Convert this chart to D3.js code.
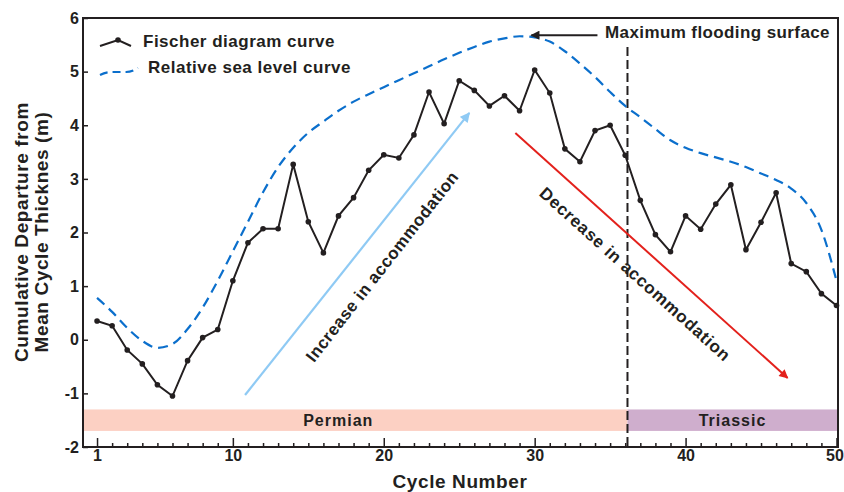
<!DOCTYPE html>
<html>
<head>
<meta charset="utf-8">
<script src="https://cdn.jsdelivr.net/npm/d3@7"></script>
<style>
  body { margin: 0; background: #fff; }
  text { font-family: "Liberation Sans", Arial, sans-serif; font-weight: bold; fill: #231f20; }
</style>
</head>
<body>
<div id="chart"></div>
<script>
// cycle numbers and the Fischer curve (cumulative departure, m)
var cycles = [1,2,3,4,5,6,7,8,9,10,11,12,13,14,15,16,17,18,19,20,21,22,23,24,25,
              26,27,28,29,30,31,32,33,34,35,36,37,38,39,40,41,42,43,44,45,46,47,48,49,50];
var fischer = [0.35,0.26,-0.19,-0.45,-0.84,-1.05,-0.39,0.04,0.19,1.10,
               1.81,2.07,2.07,3.27,2.20,1.62,2.31,2.65,3.16,3.45,
               3.39,3.82,4.62,4.03,4.83,4.65,4.36,4.55,4.27,5.03,
               4.60,3.56,3.32,3.90,4.00,3.44,2.60,1.96,1.64,2.31,
               2.06,2.53,2.89,1.68,2.19,2.74,1.42,1.27,0.86,0.64];

// relative sea level curve
var seaCycles = [1,2,3,4,5,6,7,8,9,10,11,12,13,14,15,16,17,18,19,20,21,22,23,24,25,
                 26,27,28,29,30,31,32,33,34,35,36,37,38,39,40,41,42,43,44,45,46,47,48,49,50];
var seaLevel = [0.78,0.52,0.22,-0.02,-0.15,-0.08,0.20,0.60,1.10,1.65,
                2.20,2.75,3.22,3.58,3.86,4.07,4.27,4.44,4.58,4.71,
                4.84,4.97,5.10,5.23,5.35,5.46,5.56,5.62,5.66,5.64,
                5.56,5.38,5.15,4.90,4.62,4.36,4.15,3.93,3.72,3.58,
                3.48,3.40,3.32,3.22,3.10,2.98,2.82,2.55,2.05,1.10];

var xTicks = [1,10,20,30,40,50];
var yTicks = [-2,-1,0,1,2,3,4,5,6];

var periodNames = ["Permian", "Triassic"];
var periodFrom = [0.07, 36.15];
var periodTo = [36.15, 50.07];
var periodColors = ["#fcd0c3", "#cfaecd"];
var periodTop = -1.3, periodBottom = -1.7;

var mfsCycle = 36.15;

var width = 844, height = 492;

var svg = d3.select("#chart")
    .append("svg")
    .attr("width", width)
    .attr("height", height);

var x = d3.scaleLinear().domain([0.07, 50.1]).range([83, 838]);
var y = d3.scaleLinear().domain([-2, 6]).range([447, 18]);

// period bars
periodNames.forEach(function(name, i) {
    svg.append("rect")
        .attr("x", x(periodFrom[i]))
        .attr("y", y(periodTop))
        .attr("width", x(periodTo[i]) - x(periodFrom[i]))
        .attr("height", y(periodBottom) - y(periodTop))
        .attr("fill", periodColors[i]);
    svg.append("text")
        .attr("x", (x(periodFrom[i]) + x(periodTo[i])) / 2 + (i == 0 ? -17 : 0))
        .attr("y", y((periodTop + periodBottom) / 2) + 6)
        .attr("text-anchor", "middle")
        .style("font-size", "16px")
        .style("letter-spacing", "1px")
        .text(name);
});

// axes
var yAxis = d3.axisLeft(y).tickValues(yTicks).tickSize(-5).tickPadding(4)
    .tickFormat(function(d) { return String(d); });
var gy = svg.append("g").attr("transform", "translate(83,0)").call(yAxis);
gy.select(".domain").remove();

var xAxis = d3.axisBottom(x).tickValues(cycles).tickSize(-4).tickPadding(3)
    .tickFormat(function(d) { return xTicks.indexOf(d) >= 0 ? d : ""; });
var gx = svg.append("g").attr("transform", "translate(0,447)").call(xAxis);
gx.select(".domain").remove();
gx.selectAll(".tick line")
    .filter(function(d) { return xTicks.indexOf(d) >= 0; })
    .attr("y2", -9);
// keep the last label inside the page
gx.selectAll(".tick text")
    .filter(function(d) { return d == 50; })
    .attr("dx", -2);

svg.selectAll(".tick line").attr("stroke", "#231f20").attr("stroke-width", 1.5);
svg.selectAll(".tick text").style("font-size", "16px").attr("fill", "#231f20");

svg.append("rect")
    .attr("x", 83).attr("y", 18)
    .attr("width", 755).attr("height", 429)
    .attr("fill", "none")
    .attr("stroke", "#231f20")
    .attr("stroke-width", 2);

// MFS vertical dashed line
svg.append("line")
    .attr("x1", x(mfsCycle)).attr("x2", x(mfsCycle))
    .attr("y1", y(5.46)).attr("y2", y(-2))
    .attr("stroke", "#231f20")
    .attr("stroke-width", 2)
    .attr("stroke-dasharray", "9,4");

// arrow heads
var defs = svg.append("defs");
function marker(id, color) {
    defs.append("marker")
        .attr("id", id)
        .attr("viewBox", "0 0 10 10")
        .attr("refX", 9).attr("refY", 5)
        .attr("markerWidth", 5).attr("markerHeight", 4.5)
        .attr("markerUnits", "strokeWidth")
        .attr("orient", "auto")
        .append("path")
        .attr("d", "M0,0L10,5L0,10z")
        .attr("fill", color);
}
marker("blueHead", "#8fcaf4");
marker("redHead", "#e3211c");
marker("blackHead", "#231f20");

// sea level curve
var seaLine = d3.line()
    .x(function(d, i) { return x(seaCycles[i]); })
    .y(function(d) { return y(d); })
    .curve(d3.curveMonotoneX);

svg.append("path")
    .datum(seaLevel)
    .attr("d", seaLine)
    .attr("fill", "none")
    .attr("stroke", "#0b6fcc")
    .attr("stroke-width", 2.2)
    .attr("stroke-dasharray", "10,6");

// Fischer curve
var fLine = d3.line()
    .x(function(d, i) { return x(cycles[i]); })
    .y(function(d) { return y(d); });

svg.append("path")
    .datum(fischer)
    .attr("d", fLine)
    .attr("fill", "none")
    .attr("stroke", "#231f20")
    .attr("stroke-width", 2);

svg.selectAll(".pt")
    .data(fischer)
    .enter().append("circle")
    .attr("class", "pt")
    .attr("cx", function(d, i) { return x(cycles[i]); })
    .attr("cy", function(d) { return y(d); })
    .attr("r", 2.8)
    .attr("fill", "#231f20");

// accommodation arrows
svg.append("line")
    .attr("x1", x(10.81)).attr("y1", y(-1.03))
    .attr("x2", x(25.67)).attr("y2", y(4.23))
    .attr("stroke", "#8fcaf4").attr("stroke-width", 2.2)
    .attr("marker-end", "url(#blueHead)");

svg.append("line")
    .attr("x1", x(28.72)).attr("y1", y(3.855))
    .attr("x2", x(46.76)).attr("y2", y(-0.713))
    .attr("stroke", "#e3211c").attr("stroke-width", 2)
    .attr("marker-end", "url(#redHead)");

svg.append("text")
    .attr("transform", "translate(" + x(20.2) + "," + y(1.30) + ") rotate(-52)")
    .attr("text-anchor", "middle")
    .style("font-size", "17px")
    .style("letter-spacing", "0.5px")
    .text("Increase in accommodation");

svg.append("text")
    .attr("transform", "translate(" + x(36.4) + "," + y(1.14) + ") rotate(42)")
    .attr("text-anchor", "middle")
    .style("font-size", "17px")
    .style("letter-spacing", "0.8px")
    .text("Decrease in accommodation");

// maximum flooding surface label
svg.append("line")
    .attr("x1", x(34.16)).attr("y1", y(5.68))
    .attr("x2", x(29.78)).attr("y2", y(5.68))
    .attr("stroke", "#231f20").attr("stroke-width", 2)
    .attr("marker-end", "url(#blackHead)");

svg.append("text")
    .attr("x", 605).attr("y", 38)
    .style("font-size", "17px")
    .style("letter-spacing", "0.4px")
    .text("Maximum flooding surface");

// legend
var lg = svg.append("g");
lg.append("path")
    .attr("d", "M100,46L118,40L131,46")
    .attr("fill", "none").attr("stroke", "#231f20").attr("stroke-width", 2);
lg.append("circle").attr("cx", 118).attr("cy", 40).attr("r", 2.8).attr("fill", "#231f20");
lg.append("text").attr("x", 143).attr("y", 47)
    .style("font-size", "17px").style("letter-spacing", "0.5px")
    .text("Fischer diagram curve");
lg.append("path")
    .attr("d", "M100,75Q106,72 112,72L126,72Q132,72 138,68")
    .attr("fill", "none").attr("stroke", "#0b6fcc").attr("stroke-width", 2.2)
    .attr("stroke-dasharray", "8,5");
lg.append("text").attr("x", 148).attr("y", 73)
    .style("font-size", "17px").style("letter-spacing", "0.5px")
    .text("Relative sea level curve");

// axis titles
svg.append("text")
    .attr("x", 460).attr("y", 488)
    .attr("text-anchor", "middle")
    .style("font-size", "19px")
    .style("letter-spacing", "0.6px")
    .text("Cycle Number");

var yt = svg.append("text")
    .attr("transform", "translate(28,232) rotate(-90)")
    .attr("text-anchor", "middle")
    .style("font-size", "19px")
    .style("letter-spacing", "0.6px");
yt.append("tspan").attr("x", 0).attr("y", 0).text("Cumulative Departure from");
yt.append("tspan").attr("x", 0).attr("y", 20).text("Mean Cycle Thicknes (m)");
</script>
</body>
</html>
